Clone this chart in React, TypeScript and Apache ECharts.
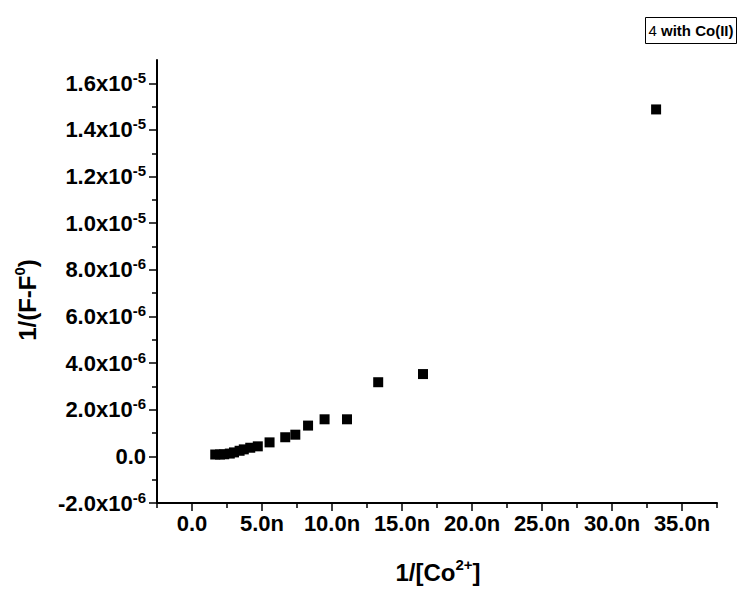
import React, { useEffect, useRef } from "react";
import * as echarts from "echarts";

// 1/[Co2+] in units of n (1e-9)
const xValues = [1.66, 2.0, 2.3, 2.7, 3.0, 3.4, 3.7, 4.16, 4.7, 5.54, 6.66, 7.38, 8.29, 9.47, 11.07, 13.3, 16.5, 33.15];
// 1/(F-F0) in units of 1e-6
const yValues = [0.08, 0.08, 0.09, 0.12, 0.17, 0.24, 0.3, 0.37, 0.43, 0.6, 0.82, 0.93, 1.32, 1.59, 1.59, 3.18, 3.53, 14.88];

const xMajorTicks = [0, 5, 10, 15, 20, 25, 30, 35];
const xMinorTicks = [-2.5, 2.5, 7.5, 12.5, 17.5, 22.5, 27.5, 32.5, 37.5];
const yMajorTicks = [-2, 0, 2, 4, 6, 8, 10, 12, 14, 16];
const yMinorTicks = [-1, 1, 3, 5, 7, 9, 11, 13, 15];

const seriesName = "4 with Co(II)";
const FONT = '"Liberation Sans", Arial, Helvetica, sans-serif';

function fmtY(v: number): string {
  if (Math.abs(v) < 1e-9) return "{a|0.0}";
  const big = Math.abs(v) >= 10 - 1e-9;
  const exp = big ? -5 : -6;
  const m = big ? v / 10 : v;
  return `{a|${m.toFixed(1)}x10}{s|${exp}}`;
}

function fmtX(v: number): string {
  if (Math.abs(v) < 1e-9) return "0.0";
  return `${v.toFixed(1)}n`;
}

export default function App() {
  const ref = useRef<HTMLDivElement>(null);
  useEffect(() => {
    document.body.style.margin = "0";
    if (!ref.current) return;
    const chart = echarts.init(ref.current, null, { renderer: "svg" });
    const data = xValues.map((x, i) => [x, yValues[i]]);
    chart.setOption({
      animation: false,
      backgroundColor: "#ffffff",
      grid: {
        left: 157,
        right: 21,
        top: 60,
        bottom: 87,
        containLabel: false,
        outerBoundsMode: "none",
      },
      xAxis: [
        {
          type: "value",
          min: -2.5,
          max: 37.5,
          position: "bottom",
          axisLine: { show: true, onZero: false, lineStyle: { color: "#000", width: 2 } },
          axisTick: { show: true, length: 8, inside: false, customValues: xMajorTicks, lineStyle: { color: "#000", width: 1.5 } },
          axisLabel: {
            show: true,
            customValues: xMajorTicks,
            formatter: fmtX,
            margin: 9,
            color: "#000",
            fontSize: 22,
            fontWeight: "bold",
            fontFamily: FONT,
          },
          splitLine: { show: false },
        },
        {
          type: "value",
          min: -2.5,
          max: 37.5,
          position: "bottom",
          axisLine: { show: false, onZero: false },
          axisTick: { show: true, length: 5, inside: false, customValues: xMinorTicks, lineStyle: { color: "#000", width: 1.5 } },
          axisLabel: { show: false },
          splitLine: { show: false },
        },
      ],
      yAxis: [
        {
          type: "value",
          min: -2,
          max: 17,
          position: "left",
          axisLine: { show: true, onZero: false, lineStyle: { color: "#000", width: 2 } },
          axisTick: { show: true, length: 8, inside: false, customValues: yMajorTicks, lineStyle: { color: "#000", width: 1.5 } },
          axisLabel: {
            show: true,
            customValues: yMajorTicks,
            formatter: fmtY,
            margin: 11,
            color: "#000",
            rich: {
              a: { fontSize: 22, fontWeight: "bold", fontFamily: FONT, color: "#000", lineHeight: 27 },
              s: { fontSize: 15, fontWeight: "bold", fontFamily: FONT, color: "#000", lineHeight: 15, verticalAlign: "top" },
            },
          },
          splitLine: { show: false },
        },
        {
          type: "value",
          min: -2,
          max: 17,
          position: "left",
          axisLine: { show: false, onZero: false },
          axisTick: { show: true, length: 5, inside: false, customValues: yMinorTicks, lineStyle: { color: "#000", width: 1.5 } },
          axisLabel: { show: false },
          splitLine: { show: false },
        },
      ],
      series: [
        {
          name: seriesName,
          type: "scatter",
          xAxisIndex: 0,
          yAxisIndex: 0,
          symbol: "rect",
          symbolSize: 10,
          itemStyle: { color: "#000", opacity: 1 },
          data,
        },
      ],
      graphic: [
        {
          type: "text",
          x: 27,
          y: 300,
          rotation: Math.PI / 2,
          style: {
            text: "{a|1/(F-F}{s|0}{a|)}",
            align: "center",
            verticalAlign: "middle",
            rich: {
              a: { fontSize: 24, fontWeight: "bold", fontFamily: FONT, fill: "#000", lineHeight: 30 },
              s: { fontSize: 15, fontWeight: "bold", fontFamily: FONT, fill: "#000", lineHeight: 15, verticalAlign: "top" },
            },
          },
        },
        {
          type: "text",
          x: 438,
          y: 572,
          style: {
            text: "{a|1/[Co}{s|2+}{a|]}",
            align: "center",
            verticalAlign: "middle",
            rich: {
              a: { fontSize: 24, fontWeight: "bold", fontFamily: FONT, fill: "#000", lineHeight: 30 },
              s: { fontSize: 15, fontWeight: "bold", fontFamily: FONT, fill: "#000", lineHeight: 15, verticalAlign: "top" },
            },
          },
        },
        {
          type: "rect",
          shape: { x: 645.5, y: 17.5, width: 91, height: 26 },
          style: { fill: "#fff", stroke: "#000", lineWidth: 1 },
        },
        {
          type: "text",
          x: 691,
          y: 30.5,
          style: {
            text: "{n|4 }{b|with Co(II)}",
            align: "center",
            verticalAlign: "middle",
            rich: {
              n: { fontSize: 15, fontFamily: FONT, fill: "#000" },
              b: { fontSize: 15, fontWeight: "bold", fontFamily: FONT, fill: "#000" },
            },
          },
        },
      ],
    });
    return () => chart.dispose();
  }, []);
  return <div ref={ref} style={{ width: 738, height: 590 }} />;
}
